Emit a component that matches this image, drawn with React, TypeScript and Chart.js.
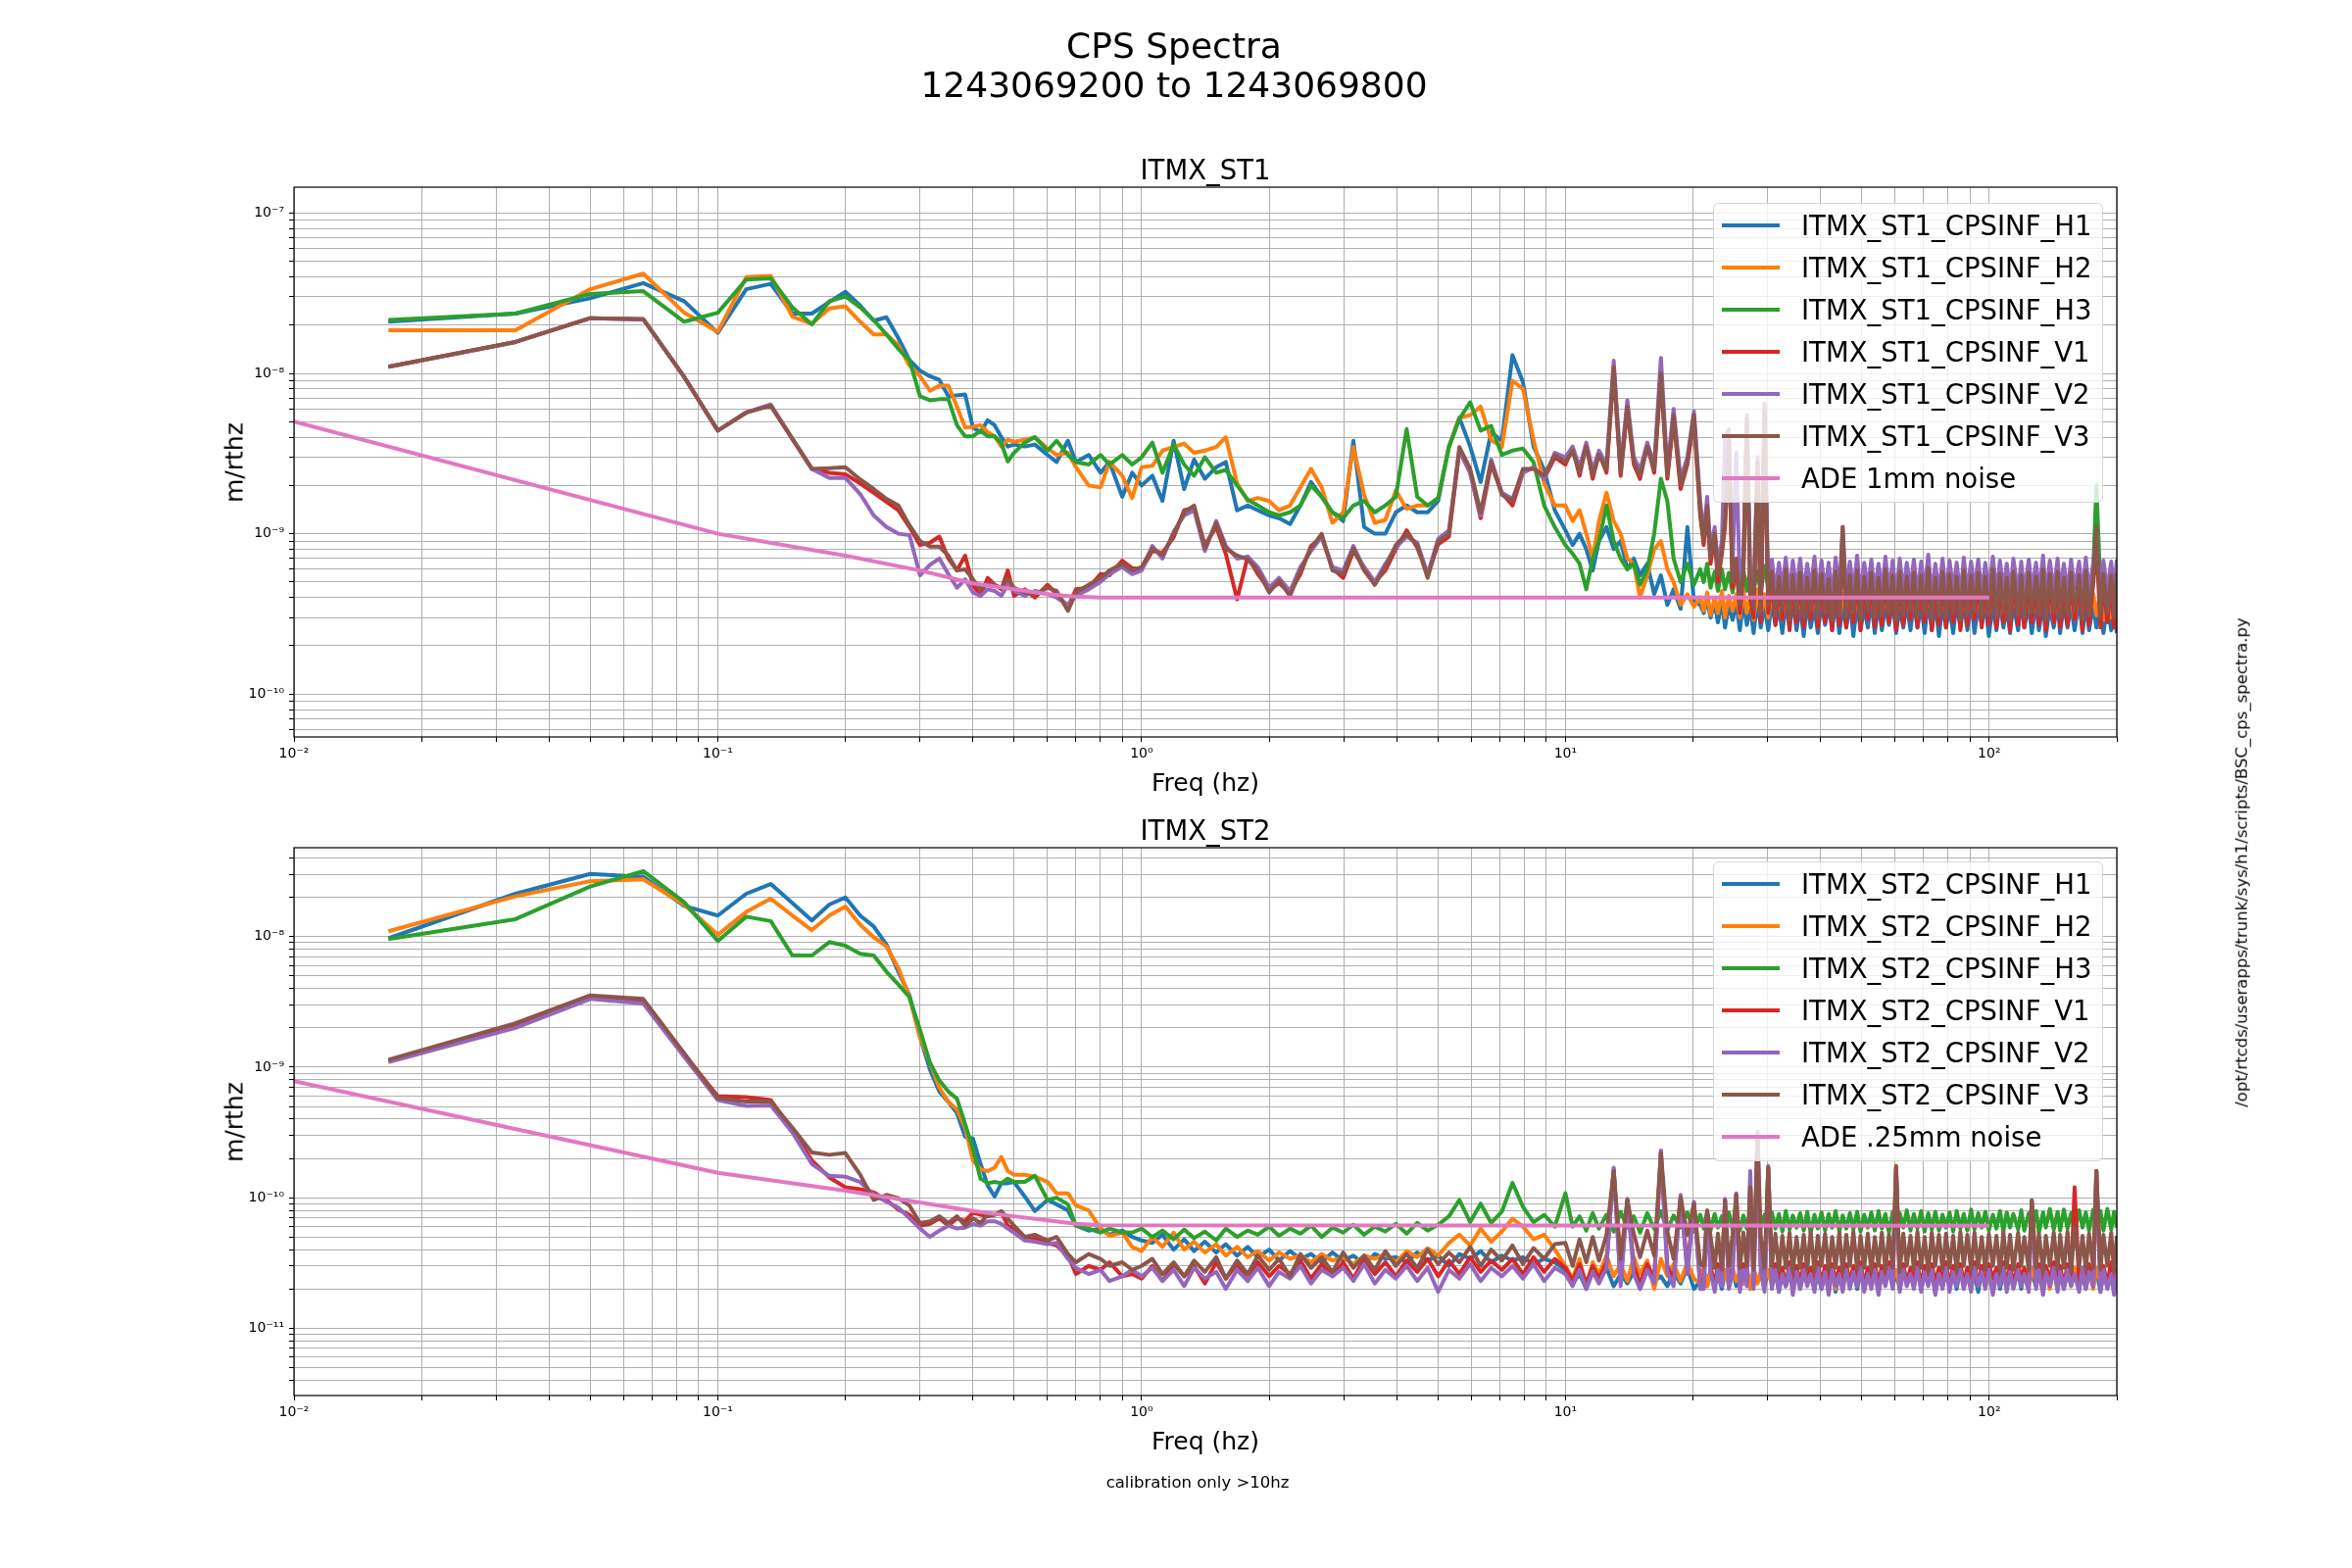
import React, { useEffect, useRef } from 'react';
import { Chart, registerables } from 'chart.js';

Chart.register(...registerables);

const FONT = '"DejaVu Sans", "Liberation Sans", sans-serif';
const GRID = '#b0b0b0';
const COLORS = ['#1f77b4', '#ff7f0e', '#2ca02c', '#d62728', '#9467bd', '#8c564b', '#e377c2'];
const LINE_W = 4;

// units used to store the values below
const TOP_UNIT = 1e-10;
const BOT_UNIT = 1e-11;

// frequency grids (Hz)
const F_LOW = [0.0167, 0.0333, 0.05, 0.0667, 0.0833, 0.1, 0.1167, 0.1333, 0.15, 0.1667,
  0.1833, 0.2, 0.2167, 0.2333, 0.25, 0.2667, 0.2833, 0.3, 0.3167, 0.3333,
  0.35, 0.3667, 0.3833, 0.4, 0.4167, 0.4333, 0.45, 0.4667, 0.4833, 0.5];
const F_MID = [0.53, 0.56, 0.6, 0.63, 0.67, 0.7, 0.75, 0.8, 0.84, 0.9,
  0.95, 1.0, 1.06, 1.12, 1.19, 1.26, 1.33, 1.41, 1.5, 1.58,
  1.68, 1.78, 1.88, 2.0, 2.11, 2.24, 2.37, 2.51, 2.66, 2.82,
  2.99, 3.16, 3.35, 3.55, 3.76, 3.98, 4.22, 4.47, 4.73, 5.01,
  5.31, 5.62, 5.96, 6.31, 6.68, 7.08, 7.5, 7.94, 8.41, 8.91,
  9.44];
const F_HIGH = [10, 10.4, 10.8, 11.2, 11.6, 12, 12.5, 13, 13.5, 14,
  14.5, 15, 15.6, 16.2, 16.8, 17.4, 18, 18.7, 19.4, 20.1];
const F_BAND = [20.8, 21.2, 21.6, 22.0, 22.5, 22.9, 23.4, 23.8, 24.3, 24.8,
  25.3, 25.8, 26.3, 26.8, 27.3, 27.8, 28.4, 28.9, 29.5, 30.1,
  30.7, 31.3, 31.9, 32.5, 33.1, 33.8, 34.4, 35.1, 35.8, 36.5,
  37.2, 37.9, 38.7, 39.4, 40.2, 41.0, 41.8, 42.6, 43.4, 44.3,
  45.1, 46.0, 46.9, 47.8, 48.8, 49.7, 50.7, 51.7, 52.7, 53.7,
  54.8, 55.8, 56.9, 58.0, 59.2, 60.3, 61.5, 62.7, 63.9, 65.2,
  66.4, 67.7, 69.1, 70.4, 71.8, 73.2, 74.6, 76.1, 77.6, 79.1,
  80.6, 82.2, 83.8, 85.5, 87.1, 88.8, 90.6, 92.3, 94.2, 96.0,
  97.9, 99.8, 102, 104, 106, 108, 110, 112, 114, 117,
  119, 121, 124, 126, 129, 131, 134, 136, 139, 142,
  145, 147, 150, 153, 156, 159, 163, 166, 169, 172,
  176, 179, 183, 186, 190, 194, 197, 200];
const F_ADE = [0.01, 0.1, 0.2, 0.3, 0.4, 0.5, 0.6, 0.7, 0.8, 100];

// ---------------- ITMX_ST1 (values in 1e-10 m/rthz) ----------------
const ST1_H1 = [
  [210, 236, 294, 366, 282, 179, 335, 362, 236, 236,
    279, 323, 265, 213, 224, 166, 121, 104, 96, 91,
    72, 73, 74, 46, 43, 51, 47.5, 40, 35, 36],
  [35, 36, 31, 28, 38, 28, 31, 24, 28, 17,
    24, 20, 23, 16, 38, 19, 29, 22, 26, 28,
    14, 15, 14, 13, 12.5, 11.5, 15, 21, 17, 13.6,
    12, 38, 11, 10, 10, 13.6, 15, 13.6, 13.6, 16,
    35, 53, 35, 21, 43, 38, 130, 88, 35, 25,
    14],
  [10.5, 8.5, 10, 8, 5.9, 9, 11, 8, 9, 6,
    7, 5.5, 6.5, 4.2, 5.5, 3.6, 4.5, 3.4, 11, 3.8],
  [3.6, 3.2, 3.9, 3.0, 3.7, 2.8, 3.8, 2.6, 3.6, 2.9,
    3.7, 2.5, 3.8, 2.7, 3.5, 2.4, 3.9, 2.6, 3.6, 2.5,
    3.8, 2.7, 3.5, 2.4, 3.7, 2.6, 3.9, 2.5, 3.6, 2.3,
    3.8, 2.6, 3.5, 2.4, 3.7, 2.7, 3.6, 2.5, 3.9, 2.4,
    3.6, 2.6, 3.8, 2.3, 3.7, 2.5, 3.5, 2.6, 3.8, 2.4,
    3.7, 2.5, 3.6, 2.7, 3.8, 2.4, 3.5, 2.6, 3.7, 2.5,
    3.8, 2.6, 3.6, 2.4, 3.9, 2.5, 3.7, 2.3, 3.6, 2.6,
    3.5, 2.4, 3.8, 2.6, 3.7, 2.5, 3.9, 2.4, 3.6, 2.7,
    3.7, 2.3, 3.6, 2.5, 3.8, 2.6, 3.5, 2.4, 3.7, 2.5,
    3.9, 2.6, 3.6, 2.4, 3.8, 2.5, 3.7, 2.3, 3.5, 2.6,
    3.8, 2.4, 3.7, 2.6, 3.6, 2.5, 3.9, 2.4, 3.7, 2.5,
    3.6, 2.6, 3.8, 2.4, 3.7, 2.5, 3.6, 2.4],
];
const ST1_H2 = [
  [186, 186, 335, 419, 239, 182, 398, 406, 226, 204,
    254, 262, 210, 175, 175, 150, 112, 96, 78, 84,
    84, 62, 46, 46.5, 47.5, 43, 40.5, 35, 38.5, 37.5],
  [38.5, 40, 34, 31, 32, 26, 20, 19.5, 28, 23,
    16.7, 26, 26.5, 33, 34.7, 36.5, 32, 33, 34.7, 40,
    20.6, 16, 16.7, 16, 14, 15, 19.5, 25.4, 19.5, 11.7,
    13.6, 34.7, 17.5, 11.7, 12.2, 18.6, 14.3, 15, 15, 16.7,
    34.7, 52.7, 55, 62, 38.5, 34.7, 90, 80, 38.5, 20.6,
    15],
  [15, 12, 14, 10, 7, 12, 18, 12, 10, 7,
    6.5, 4.0, 5.5, 8, 9, 6, 5, 3.6, 4.2, 3.5],
  [4.0, 3.3, 4.3, 3.1, 4.0, 3.2, 4.4, 3.0, 4.1, 3.3,
    4.2, 3.0, 4.4, 3.2, 4.1, 2.9, 4.5, 3.1, 4.2, 3.0,
    4.4, 3.2, 4.1, 2.9, 4.3, 3.1, 4.5, 3.0, 4.2, 2.9,
    4.4, 3.1, 4.2, 3.0, 4.3, 3.2, 4.1, 2.9, 4.5, 3.0,
    4.2, 3.1, 4.4, 2.9, 4.3, 3.0, 4.1, 3.2, 4.4, 2.9,
    4.3, 3.0, 4.2, 3.2, 4.4, 2.9, 4.1, 3.1, 4.3, 3.0,
    4.4, 3.1, 4.2, 3.0, 4.5, 2.9, 4.3, 3.1, 4.1, 3.0,
    4.3, 3.2, 4.4, 2.9, 4.2, 3.1, 4.5, 3.0, 4.3, 2.9,
    4.1, 3.0, 4.4, 3.2, 4.3, 2.9, 4.2, 3.1, 4.4, 3.0,
    4.5, 3.1, 4.2, 2.9, 4.3, 3.0, 4.4, 3.2, 4.1, 2.9,
    4.3, 3.1, 4.4, 3.0, 4.2, 2.9, 4.5, 3.1, 4.3, 3.0,
    4.2, 3.1, 4.4, 2.9, 4.3, 3.0, 4.2, 3.1],
];
const ST1_H3 = [
  [215, 236, 313, 326, 210, 239, 385, 392, 258, 202,
    282, 302, 258, 215, 175, 142, 121, 72, 68, 69,
    69, 47.5, 40.5, 40.5, 44, 40.5, 40.5, 36.7, 28.2, 32],
  [37, 40, 33, 38, 31, 28, 27, 31, 27, 31,
    27, 30, 37, 24, 36, 27, 23, 30, 24, 25,
    20, 16.3, 15, 13.6, 13, 13.6, 15, 20, 17, 13.6,
    12.5, 15, 16, 13.6, 15, 17, 45, 17, 15, 16.7,
    34.7, 52, 66, 44, 47, 31, 33, 34, 28, 15,
    11],
  [8.5, 7.5, 6.5, 4.5, 7, 9, 15, 9, 7, 6,
    6.5, 4.8, 6, 10, 22, 16, 7, 5, 6.5, 4.8],
  [6.0, 5.0, 6.5, 4.6, 5.8, 4.4, 6.0, 4.5, 5.7, 4.3,
    6.2, 4.6, 5.9, 4.4, 6.1, 4.5, 5.8, 4.3, 6.3, 4.6,
    6.0, 4.4, 6.2, 4.5, 5.9, 4.6, 6.1, 4.3, 6.4, 4.5,
    5.9, 4.6, 6.2, 4.4, 6.0, 4.5, 6.3, 4.4, 5.8, 4.6,
    6.1, 4.5, 6.4, 4.3, 5.9, 4.6, 6.2, 4.4, 6.0, 4.5,
    6.3, 4.4, 5.9, 4.6, 6.1, 4.5, 6.2, 4.3, 6.0, 4.6,
    6.2, 4.5, 6.0, 4.4, 6.3, 4.6, 5.9, 4.5, 6.1, 4.3,
    6.4, 4.6, 6.0, 4.4, 6.2, 4.5, 5.8, 4.3, 6.1, 4.6,
    6.0, 4.4, 6.3, 4.5, 5.9, 4.6, 6.2, 4.3, 6.0, 4.5,
    6.1, 4.6, 6.4, 4.4, 5.9, 4.5, 6.2, 4.3, 6.0, 4.6,
    6.3, 4.4, 6.0, 4.5, 6.1, 4.6, 5.9, 4.4, 6.2, 4.5,
    6.0, 20, 4.6, 6.1, 4.4, 6.2, 4.5, 6.0],
];
const ST1_V1 = [
  [110, 157, 221, 218, 95, 44, 57, 63, 39, 25.4,
    24, 23.5, 20.6, 18, 15.8, 14, 11, 8.5, 8.8, 9.6,
    7, 5.9, 7.3, 4.8, 4.1, 5.3, 4.8, 4.5, 5.9, 4.1],
  [4.5, 4.0, 4.8, 4.2, 3.5, 4.5, 4.6, 5.6, 5.5, 6.8,
    6.1, 6.0, 7.8, 7.6, 9.5, 14, 14.5, 8.5, 11, 7.5,
    3.9, 7.2, 5.6, 4.5, 4.9, 4.3, 5.6, 8.4, 9.5, 6.1,
    5.3, 7.8, 6.2, 5.0, 5.9, 8.0, 10.5, 8.2, 5.6, 8.6,
    9.6, 33, 24, 12.5, 27, 18, 15, 24, 26, 22,
    30],
  [27, 34, 23, 36, 22, 32, 24, 105, 23, 60,
    27, 22, 36, 24, 95, 22, 52, 19, 27, 52],
  [13, 8.5, 14, 6.5, 9.5, 5.0, 7.5, 11, 36, 4.6,
    6.5, 3.2, 5.5, 48, 4.0, 3.0, 26, 2.8, 55, 3.2,
    5.3, 2.7, 5.0, 2.9, 5.5, 2.5, 5.1, 2.8, 5.2, 2.6,
    4.9, 2.9, 5.4, 2.6, 5.1, 2.8, 4.8, 2.5, 5.3, 2.7,
    10, 2.6, 5.0, 2.8, 5.4, 2.5, 4.9, 2.9, 5.2, 2.6,
    4.8, 2.7, 5.5, 2.8, 5.0, 2.5, 5.3, 2.7, 4.9, 2.9,
    5.2, 2.6, 5.0, 2.8, 5.6, 2.5, 4.8, 2.7, 5.3, 2.6,
    5.1, 2.8, 4.9, 2.5, 5.4, 2.7, 5.0, 2.9, 5.2, 2.6,
    4.9, 2.7, 5.5, 2.6, 5.1, 2.8, 4.8, 2.5, 5.3, 2.7,
    5.0, 2.6, 5.2, 2.8, 4.9, 2.7, 5.5, 2.5, 5.1, 2.8,
    5.3, 2.6, 4.8, 2.7, 5.2, 2.9, 5.0, 2.5, 5.4, 2.7,
    4.9, 9, 2.6, 5.1, 2.8, 5.0, 2.6, 5.2],
];
const ST1_V2 = [
  [110, 157, 221, 218, 95, 44, 57, 64, 39, 25.4,
    22.3, 22.3, 17.7, 13, 11, 10, 9.8, 5.5, 6.4, 7,
    5.6, 4.6, 5.2, 4.3, 4.1, 4.5, 4.4, 4.1, 4.8, 4.4],
  [4.1, 4.4, 4.2, 4.0, 3.6, 4.1, 4.5, 5.0, 5.6, 6.2,
    5.6, 5.9, 8.4, 7.0, 10.3, 13, 14, 7.8, 12, 8.4,
    7.0, 7.2, 6.2, 4.6, 5.3, 4.4, 6.2, 7.8, 9.6, 6.2,
    5.9, 8.4, 6.1, 5.0, 6.5, 8.2, 9.6, 8.8, 5.6, 9.3,
    10.5, 33, 24, 13, 29, 18, 16.5, 24, 26, 22,
    32],
  [30, 35, 26, 37, 25, 33, 27, 120, 26, 68,
    30, 25, 37, 27, 125, 25, 60, 22, 30, 58],
  [16, 10, 17, 8, 11, 6.5, 9, 40, 45, 6.2,
    32, 4.6, 7.2, 55, 5.5, 4.4, 30, 4.3, 65, 4.6,
    6.9, 4.3, 6.6, 4.5, 7.1, 4.1, 6.8, 4.4, 7.0, 4.2,
    6.5, 4.5, 7.2, 4.1, 6.8, 4.4, 6.6, 4.0, 7.1, 4.3,
    11, 4.2, 6.7, 4.4, 7.3, 4.1, 6.6, 4.5, 6.9, 4.2,
    6.5, 4.3, 7.2, 4.4, 6.8, 4.0, 7.0, 4.3, 6.6, 4.5,
    6.9, 4.2, 6.7, 4.4, 7.4, 4.1, 6.5, 4.3, 7.0, 4.2,
    6.8, 4.4, 6.6, 4.0, 7.1, 4.3, 6.7, 4.5, 6.9, 4.2,
    6.6, 4.3, 7.2, 4.2, 6.8, 4.4, 6.5, 4.1, 7.0, 4.3,
    6.7, 4.2, 6.9, 4.4, 6.6, 4.3, 7.3, 4.1, 6.8, 4.4,
    7.0, 4.2, 6.5, 4.3, 6.9, 4.5, 6.7, 4.1, 7.1, 4.3,
    6.6, 10, 4.2, 6.8, 4.4, 6.7, 4.2, 6.9],
];
const ST1_V3 = [
  [110, 157, 221, 218, 95, 44, 57, 63, 39, 25.4,
    25.6, 26, 21.8, 19, 16.5, 15, 11.3, 9, 8.3, 8.3,
    7.3, 5.9, 6, 5.2, 4.5, 4.9, 4.8, 4.6, 5.2, 4.6],
  [4.3, 4.2, 4.6, 4.4, 3.3, 4.3, 4.8, 5.3, 5.9, 6.5,
    5.9, 6.2, 8.1, 7.3, 10, 13.6, 15, 8.1, 11.7, 8.1,
    7.3, 6.9, 5.9, 4.3, 5.1, 4.1, 5.9, 8.1, 10, 5.9,
    5.6, 8.1, 5.9, 4.8, 6.2, 8.5, 10, 8.5, 5.3, 9,
    10, 34.7, 25.4, 13.6, 28, 17.5, 16, 25.4, 25.4, 23,
    31],
  [28, 33, 24, 35, 23, 31, 25, 110, 24, 62,
    28, 23, 35, 25, 100, 23, 55, 20, 28, 55],
  [14, 9, 15, 7, 10, 5.5, 8, 12, 38, 5.0,
    7, 3.6, 6, 52, 4.5, 3.4, 28, 3.2, 60, 3.6,
    5.8, 3.1, 5.4, 3.3, 6.0, 2.9, 5.5, 3.2, 5.7, 3.0,
    5.3, 3.3, 5.9, 3.0, 5.6, 3.2, 5.2, 2.9, 5.8, 3.1,
    11, 3.0, 5.5, 3.2, 5.9, 2.9, 5.4, 3.3, 5.7, 3.0,
    5.3, 3.1, 6.0, 3.2, 5.5, 2.9, 5.8, 3.1, 5.4, 3.3,
    5.7, 3.0, 5.5, 3.2, 6.1, 2.9, 5.3, 3.1, 5.8, 3.0,
    5.6, 3.2, 5.4, 2.9, 5.9, 3.1, 5.5, 3.3, 5.7, 3.0,
    5.4, 3.1, 6.0, 3.0, 5.6, 3.2, 5.3, 2.9, 5.8, 3.1,
    5.5, 3.0, 5.7, 3.2, 5.4, 3.1, 6.0, 2.9, 5.6, 3.2,
    5.8, 3.0, 5.3, 3.1, 5.7, 3.3, 5.5, 2.9, 5.9, 3.1,
    5.4, 11, 3.0, 5.6, 3.2, 5.5, 3.0, 5.7],
];
const ST1_ADE = [50, 10, 7.3, 5.9, 4.9, 4.5, 4.2, 4.05, 4.0, 4.0];

// ---------------- ITMX_ST2 (values in 1e-11 m/rthz) ----------------
const ST2_H1 = [
  [970, 2130, 3025, 2870, 1720, 1449, 2130, 2530, 1810, 1330,
    1760, 1995, 1449, 1196, 869, 538, 355, 170, 95.6, 65,
    54, 44.5, 29.3, 28.4, 18.2, 12.4, 10.2, 12.9, 12.9, 13.2],
  [10.2, 7.9, 9.6, 8.9, 8.0, 6.1, 5.6, 5.8, 5.2, 5.6,
    5.0, 4.7, 4.5, 5.2, 4.0, 4.8, 3.9, 4.6, 3.8, 4.4,
    3.6, 4.2, 3.5, 4.0, 3.3, 3.9, 3.4, 3.7, 3.2, 3.8,
    3.3, 3.6, 3.1, 3.7, 3.4, 3.5, 3.2, 3.8, 3.3, 3.6,
    3.0, 3.7, 3.4, 3.9, 3.2, 3.6, 3.3, 3.5, 3.1, 3.4,
    3.2],
  [2.8, 2.2, 2.6, 2.0, 2.7, 2.3, 2.9, 2.1, 2.6, 2.2,
    2.7, 2.0, 2.8, 2.3, 2.5, 2.1, 2.7, 2.2, 2.9, 2.0],
  [2.3, 2.7, 2.1, 2.8, 2.2, 2.6, 2.0, 2.7, 2.3, 2.8,
    2.1, 2.6, 2.2, 2.9, 2.0, 2.7, 2.3, 2.6, 2.1, 2.8,
    2.2, 2.7, 1.9, 2.8, 2.1, 2.6, 2.3, 2.9, 2.0, 2.7,
    2.2, 2.8, 2.1, 2.6, 2.0, 2.7, 2.3, 2.8, 1.9, 2.6,
    2.1, 2.9, 2.2, 2.7, 2.0, 2.6, 2.3, 2.8, 2.1, 2.7,
    1.9, 2.6, 2.2, 2.8, 2.1, 2.7, 2.0, 2.9, 2.3, 2.6,
    2.1, 2.8, 2.0, 2.7, 2.2, 2.6, 1.9, 2.8, 2.1, 2.7,
    2.3, 2.6, 2.0, 2.9, 2.2, 2.7, 2.1, 2.6, 1.9, 2.8,
    2.2, 2.7, 2.1, 2.8, 2.0, 2.6, 2.3, 2.9, 2.1, 2.7,
    2.0, 2.8, 2.2, 2.6, 2.1, 2.7, 1.9, 2.8, 2.3, 2.6,
    2.1, 2.9, 2.0, 2.7, 2.2, 2.8, 2.1, 2.6, 2.0, 2.7,
    2.2, 2.8, 1.9, 2.6, 2.1, 2.7, 2.0, 2.8],
];
const ST2_H2 = [
  [1100, 2035, 2660, 2750, 1760, 1033, 1545, 1955, 1449, 1122,
    1449, 1701, 1235, 987, 841, 573, 344, 170, 108, 69.5,
    54, 47.5, 34.4, 19.3, 16.5, 16, 17, 20.5, 16, 15],
  [15, 14.5, 13.2, 10.8, 10.8, 8.7, 8.0, 5.8, 5.1, 5.4,
    4.2, 3.9, 5.0, 4.2, 5.4, 4.0, 4.6, 3.8, 4.4, 3.6,
    4.2, 3.5, 3.9, 3.3, 3.8, 3.4, 3.6, 3.2, 3.7, 3.3,
    3.5, 3.1, 3.6, 3.4, 3.7, 3.2, 3.9, 3.5, 4.1, 3.6,
    4.5, 5.2, 4.3, 5.8, 4.6, 5.5, 6.9, 6.0, 4.8, 5.2,
    4.0],
  [3.0, 2.4, 3.4, 2.0, 3.2, 2.6, 3.6, 2.5, 3.1, 2.3,
    3.5, 2.6, 3.3, 2.0, 3.4, 2.5, 3.1, 2.3, 3.2, 2.4],
  [2.2, 2.9, 2.1, 2.7, 2.3, 2.9, 2.2, 2.8, 2.1, 2.9,
    2.3, 2.7, 2.2, 2.8, 2.0, 2.9, 2.2, 2.7, 2.3, 2.8,
    2.1, 2.9, 2.2, 2.7, 2.3, 2.8, 2.0, 2.9, 2.2, 2.7,
    2.3, 2.8, 2.1, 2.9, 2.2, 2.7, 2.3, 2.8, 2.0, 2.9,
    2.2, 2.7, 2.3, 2.8, 2.1, 2.9, 2.2, 2.7, 2.3, 2.8,
    2.0, 2.9, 2.2, 2.7, 2.3, 2.8, 2.1, 2.9, 2.2, 2.7,
    2.3, 2.8, 2.0, 2.9, 2.2, 2.7, 2.3, 2.8, 2.1, 2.9,
    2.2, 2.7, 2.3, 2.8, 2.0, 2.9, 2.2, 2.7, 2.3, 2.8,
    2.1, 2.9, 2.2, 2.7, 2.3, 2.8, 2.0, 2.9, 2.2, 2.7,
    2.3, 2.8, 2.1, 2.9, 2.2, 2.7, 2.3, 2.8, 2.0, 2.9,
    2.2, 2.7, 2.3, 2.8, 2.1, 2.9, 2.2, 2.7, 2.3, 2.8,
    2.0, 2.9, 2.2, 2.7, 2.3, 2.8, 2.1, 2.6],
];
const ST2_H3 = [
  [956, 1360, 2420, 3180, 1836, 926, 1422, 1316, 717, 717,
    908, 852, 740, 717, 538, 430, 344, 193, 108, 79,
    65, 57.3, 36.7, 23.6, 14, 12.9, 13.2, 12.9, 14, 13.2],
  [13.2, 14.7, 9.6, 10, 8.9, 6.1, 5.8, 5.4, 5.8, 5.4,
    5.4, 5.8, 5.0, 5.6, 4.8, 5.7, 4.9, 5.5, 4.7, 5.8,
    5.0, 5.6, 5.2, 6.0, 5.1, 5.8, 5.3, 6.1, 5.0, 5.9,
    5.4, 6.2, 5.2, 6.0, 5.5, 6.3, 5.3, 6.4, 5.6, 6.2,
    7.2, 9.6, 6.5, 9.0, 6.4, 7.8, 13, 8.5, 6.5, 7.4,
    6.0],
  [10.8, 6.0, 7.2, 5.6, 7.6, 5.8, 7.4, 5.5, 7.8, 5.9,
    7.2, 5.4, 7.6, 5.8, 7.9, 5.6, 7.3, 5.9, 7.7, 5.5],
  [7.4, 5.8, 7.8, 5.6, 7.5, 5.9, 7.2, 5.5, 7.7, 5.7,
    7.9, 5.6, 7.3, 5.8, 7.6, 5.4, 7.8, 5.9, 7.4, 5.6,
    7.7, 5.8, 7.5, 5.5, 7.9, 5.7, 7.3, 5.9, 7.6, 5.6,
    7.8, 5.4, 7.4, 5.8, 7.7, 5.6, 7.5, 5.9, 7.9, 5.5,
    7.3, 5.8, 7.6, 5.7, 7.8, 5.5, 7.4, 5.9, 7.7, 5.6,
    7.9, 5.8, 7.5, 5.4, 7.8, 5.7, 7.6, 5.9, 8.0, 5.6,
    7.5, 5.8, 7.9, 5.5, 7.6, 5.7, 7.8, 5.6, 7.4, 5.9,
    7.7, 5.5, 7.9, 5.8, 7.5, 5.6, 8.1, 5.7, 7.6, 5.9,
    7.8, 5.6, 7.4, 5.8, 7.9, 5.5, 7.7, 5.9, 7.5, 5.7,
    8.0, 5.6, 7.6, 5.8, 7.9, 5.4, 7.7, 5.9, 8.2, 5.7,
    7.8, 5.6, 8.1, 5.8, 7.6, 5.5, 8.0, 5.9, 7.7, 5.6,
    8.1, 5.8, 7.9, 5.6, 8.2, 5.7, 7.8, 5.9],
];
const ST2_V1 = [
  [112, 210, 345, 322, 125, 60, 59, 56, 33, 19.3,
    14.3, 12, 11.6, 11, 9.6, 8.1, 7.4, 6.1, 6.3, 6.95,
    6.1, 6.95, 6.6, 7.7, 7.4, 7.2, 7.4, 7.7, 6.1, 5.8],
  [5.0, 4.9, 4.5, 4.3, 3.6, 2.6, 3.0, 2.8, 3.2, 2.5,
    2.6, 2.4, 3.0, 2.3, 3.1, 2.5, 3.0, 2.2, 3.2, 2.4,
    3.1, 2.3, 3.2, 2.5, 3.0, 2.6, 3.3, 2.4, 3.1, 2.5,
    3.2, 2.4, 3.4, 2.6, 3.2, 2.5, 3.3, 2.7, 3.4, 2.5,
    3.3, 2.6, 3.5, 2.7, 3.3, 2.8, 3.4, 2.6, 3.5, 2.7,
    3.4],
  [2.9, 2.3, 3.1, 2.2, 3.0, 2.4, 3.2, 16.5, 2.3, 9.7,
    3.0, 2.2, 3.1, 2.4, 22.5, 3.0, 2.3, 10.2, 2.9, 9.1],
  [2.2, 2.2, 7.8, 3.0, 2.1, 3.1, 2.3, 9.6, 2.2, 2.9,
    10.6, 2.3, 3.1, 2.2, 12.5, 2.1, 30, 3.0, 2.2, 17,
    2.2, 3.1, 2.3, 2.9, 2.1, 3.2, 2.4, 3.0, 2.2, 3.1,
    2.3, 2.9, 2.1, 3.2, 2.2, 3.0, 2.4, 3.1, 2.3, 2.9,
    2.1, 3.1, 2.2, 3.0, 2.4, 3.2, 2.1, 2.9, 2.3, 3.1,
    2.2, 3.0, 2.3, 3.2, 2.1, 17.5, 2.4, 3.1, 2.2, 2.9,
    2.3, 3.2, 2.1, 3.0, 2.4, 3.1, 2.2, 2.9, 2.3, 3.2,
    2.1, 3.0, 2.3, 3.1, 2.2, 2.9, 2.4, 3.2, 2.1, 3.0,
    2.2, 3.1, 2.4, 2.9, 2.3, 3.2, 2.1, 3.0, 2.2, 3.1,
    2.4, 2.9, 2.2, 9.5, 2.1, 3.1, 2.3, 3.0, 2.4, 3.2,
    2.2, 3.0, 2.1, 3.1, 2.3, 12, 2.2, 2.9, 2.4, 3.1,
    2.1, 16, 2.3, 3.0, 2.2, 3.2, 2.1, 2.9],
];
const ST2_V2 = [
  [109, 200, 333, 307, 120, 56, 50.4, 51, 31.5, 18.1,
    14.7, 14.5, 13.2, 10.5, 9.3, 8.4, 6.95, 5.8, 5.0, 5.6,
    6.1, 5.8, 5.9, 6.3, 6.1, 6.6, 6.6, 6.3, 5.8, 5.4],
  [4.7, 4.6, 4.4, 4.5, 3.4, 2.9, 2.6, 2.8, 2.3, 2.5,
    2.8, 2.5, 2.9, 2.3, 2.8, 2.1, 2.9, 2.4, 2.7, 2.0,
    2.8, 2.3, 2.9, 2.1, 2.7, 2.4, 3.0, 2.2, 2.8, 2.5,
    2.9, 2.3, 3.1, 2.2, 2.8, 2.4, 3.0, 2.3, 2.9, 1.9,
    2.8, 2.4, 3.1, 2.3, 2.9, 2.5, 3.0, 2.4, 3.1, 2.3,
    2.9],
  [2.6, 2.1, 2.8, 2.0, 2.7, 2.2, 2.9, 17, 2.1, 9.8,
    2.6, 2.0, 2.8, 2.2, 23, 2.7, 2.1, 10.5, 2.6, 9.3],
  [2.0, 2.0, 7.5, 2.7, 1.9, 2.8, 2.1, 9.8, 2.0, 2.6,
    10.8, 1.9, 2.8, 2.1, 16, 2.0, 32, 2.7, 1.9, 17.5,
    2.0, 2.8, 1.9, 2.6, 2.1, 2.9, 1.8, 2.7, 2.0, 2.8,
    2.1, 2.6, 1.9, 2.9, 2.0, 2.7, 1.8, 2.8, 2.1, 2.6,
    1.9, 2.8, 2.0, 2.7, 2.1, 2.9, 1.9, 2.6, 2.0, 2.8,
    1.8, 2.7, 2.1, 2.9, 2.0, 17, 1.9, 2.8, 2.1, 2.6,
    2.0, 2.9, 1.9, 2.7, 2.1, 2.8, 1.8, 2.6, 2.0, 2.9,
    1.9, 2.7, 2.1, 2.8, 2.0, 2.6, 1.9, 2.9, 2.1, 2.7,
    2.0, 2.8, 1.8, 2.6, 2.1, 2.9, 1.9, 2.7, 2.0, 2.8,
    2.1, 2.6, 1.9, 9.5, 2.0, 2.8, 1.8, 2.7, 2.1, 2.9,
    1.9, 2.7, 2.0, 2.8, 2.1, 2.6, 1.9, 2.9, 2.0, 2.7,
    2.1, 16, 1.9, 2.8, 2.0, 2.6, 1.8, 2.7],
];
const ST2_V3 = [
  [114, 217, 355, 333, 128, 58, 54.5, 54.5, 34.4, 22.2,
    21.3, 22, 15, 9.6, 10.5, 9.9, 8.7, 6.4, 6.6, 7.2,
    6.4, 7.2, 6.1, 6.95, 6.4, 7.4, 7.4, 7.9, 6.95, 6.1],
  [5.0, 5.2, 4.7, 5.0, 3.7, 3.2, 3.7, 3.4, 3.0, 3.2,
    2.8, 3.0, 3.4, 2.6, 3.2, 2.5, 3.3, 2.7, 3.5, 2.4,
    3.3, 2.6, 3.6, 2.8, 3.4, 2.5, 3.7, 2.9, 3.5, 2.7,
    3.8, 2.9, 3.6, 2.8, 3.9, 3.0, 3.7, 2.9, 4.0, 3.1,
    3.8, 3.2, 4.2, 3.0, 4.0, 3.3, 4.3, 3.1, 4.1, 3.4,
    4.4],
  [4.5, 3.0, 4.8, 3.2, 5.0, 3.3, 5.2, 16, 3.4, 9.6,
    5.3, 3.5, 5.6, 3.6, 22, 5.5, 3.4, 10, 5.2, 9],
  [3.1, 3.0, 8, 5.1, 2.9, 5.3, 2.8, 9.5, 3.0, 5.2,
    10.5, 2.9, 5.4, 3.0, 12, 2.8, 30, 5.1, 2.9, 17,
    3.0, 5.3, 2.8, 5.1, 2.9, 5.4, 2.7, 5.0, 2.9, 5.2,
    2.8, 5.5, 2.7, 5.1, 3.0, 5.3, 2.8, 5.0, 2.9, 5.4,
    2.7, 5.2, 3.0, 5.5, 2.8, 5.1, 2.9, 5.3, 2.7, 5.0,
    3.0, 5.4, 2.8, 5.2, 2.9, 17, 2.7, 5.3, 3.0, 5.1,
    2.8, 5.5, 2.9, 5.0, 2.7, 5.4, 3.0, 5.2, 2.8, 5.3,
    2.9, 5.1, 2.7, 5.5, 3.0, 5.2, 2.8, 5.4, 2.9, 5.0,
    2.8, 5.3, 3.0, 5.1, 2.7, 5.5, 2.9, 5.2, 2.8, 5.4,
    3.0, 5.0, 2.8, 9.5, 2.9, 5.3, 2.7, 5.1, 3.0, 5.4,
    2.8, 5.2, 2.9, 5.5, 2.7, 6.0, 3.0, 5.1, 2.8, 5.3,
    2.9, 16, 2.8, 5.2, 3.0, 5.4, 2.7, 5.1],
];
const ST2_ADE = [78, 15.5, 11.3, 9.2, 7.9, 7.2, 6.7, 6.3, 6.15, 6.1];

const ST1_LABELS = ['ITMX_ST1_CPSINF_H1', 'ITMX_ST1_CPSINF_H2', 'ITMX_ST1_CPSINF_H3',
  'ITMX_ST1_CPSINF_V1', 'ITMX_ST1_CPSINF_V2', 'ITMX_ST1_CPSINF_V3', 'ADE 1mm noise'];
const ST2_LABELS = ['ITMX_ST2_CPSINF_H1', 'ITMX_ST2_CPSINF_H2', 'ITMX_ST2_CPSINF_H3',
  'ITMX_ST2_CPSINF_V1', 'ITMX_ST2_CPSINF_V2', 'ITMX_ST2_CPSINF_V3', 'ADE .25mm noise'];

// axes
const X_MIN = 0.01;
const X_MAX = 200;
const X_MAJOR = [0.01, 0.1, 1, 10, 100];
const X_LABELS = ['10⁻²', '10⁻¹', '10⁰', '10¹', '10²'];
const Y1_RANGE = [5.4e-11, 1.45e-7];
const Y1_MAJOR = [1e-10, 1e-9, 1e-8, 1e-7];
const Y1_LABELS = ['10⁻¹⁰', '10⁻⁹', '10⁻⁸', '10⁻⁷'];
const Y2_RANGE = [3.05e-12, 4.8e-8];
const Y2_MAJOR = [1e-11, 1e-10, 1e-9, 1e-8];
const Y2_LABELS = ['10⁻¹¹', '10⁻¹⁰', '10⁻⁹', '10⁻⁸'];

function logTicks(min: number, max: number) {
  const out: number[] = [];
  for (let e = Math.floor(Math.log10(min)); e <= Math.floor(Math.log10(max)); e++) {
    for (let m = 1; m <= 9; m++) {
      const v = parseFloat((m * Math.pow(10, e)).toPrecision(6));
      if (v >= min * (1 - 1e-9) && v <= max * (1 + 1e-9)) out.push(v);
    }
  }
  return out;
}

function majorLabel(v: number, majors: number[], labels: string[]) {
  const i = majors.findIndex((m) => Math.abs(v / m - 1) < 1e-6);
  return i >= 0 ? labels[i] : '';
}

function toPoints(series: number[][], unit: number) {
  const grids = [F_LOW, F_MID, F_HIGH, F_BAND];
  const pts: { x: number; y: number }[] = [];
  series.forEach((vals, s) => {
    vals.forEach((v, i) => {
      const x = grids[s][i];
      if (x !== undefined) pts.push({ x, y: v * unit });
    });
  });
  return pts;
}

const framePlugin = {
  id: 'frame',
  afterDraw(chart: any) {
    const { ctx, chartArea: a } = chart;
    ctx.save();
    ctx.strokeStyle = '#000';
    ctx.lineWidth = 1.2;
    ctx.strokeRect(a.left, a.top, a.right - a.left, a.bottom - a.top);
    ctx.restore();
  },
};

function buildDatasets(series: number[][][], ade: number[], unit: number, labels: string[]) {
  const ds: any[] = series.map((s, i) => ({
    label: labels[i],
    data: toPoints(s, unit),
    borderColor: COLORS[i],
    backgroundColor: COLORS[i],
    borderWidth: LINE_W,
    pointRadius: 0,
    tension: 0,
    fill: false,
    clip: 0,
    order: 10 - i,
  }));
  ds.push({
    label: labels[6],
    data: F_ADE.map((f, i) => ({ x: f, y: ade[i] * unit })),
    borderColor: COLORS[6],
    backgroundColor: COLORS[6],
    borderWidth: LINE_W,
    pointRadius: 0,
    tension: 0,
    fill: false,
    clip: 0,
    order: 1,
  });
  return ds;
}

function makeChart(canvas: HTMLCanvasElement, datasets: any[], yRange: number[], yMajor: number[],
  yLabels: string[], padTop: number, padBottom: number) {
  const xTicks = logTicks(X_MIN, X_MAX);
  const yTicks = logTicks(yRange[0], yRange[1]);
  return new Chart(canvas, {
    type: 'line',
    data: { datasets },
    plugins: [framePlugin],
    options: {
      animation: false,
      responsive: false,
      devicePixelRatio: 1,
      events: [],
      layout: { padding: { top: padTop, right: 240, bottom: padBottom, left: 0 } },
      plugins: { legend: { display: false }, tooltip: { enabled: false }, title: { display: false } },
      elements: { point: { radius: 0 }, line: { borderJoinStyle: 'round' } },
      scales: {
        x: {
          type: 'logarithmic',
          position: 'bottom',
          min: X_MIN,
          max: X_MAX,
          afterBuildTicks: (s: any) => { s.ticks = xTicks.map((v) => ({ value: v })); },
          afterFit: (s: any) => { s.height = 48; },
          grid: { color: GRID, lineWidth: 1, drawTicks: true, tickLength: 5, tickColor: '#000', tickWidth: 1 },
          border: { display: false },
          ticks: {
            autoSkip: false, maxRotation: 0, minRotation: 0, padding: 4, color: '#000',
            font: { family: FONT, size: 14 },
            callback: (v: any) => majorLabel(Number(v), X_MAJOR, X_LABELS),
          },
        },
        y: {
          type: 'logarithmic',
          position: 'left',
          min: yRange[0],
          max: yRange[1],
          afterBuildTicks: (s: any) => { s.ticks = yTicks.map((v) => ({ value: v })); },
          afterFit: (s: any) => { s.width = 300; },
          grid: { color: GRID, lineWidth: 1, drawTicks: true, tickLength: 5, tickColor: '#000', tickWidth: 1 },
          border: { display: false },
          ticks: {
            autoSkip: false, padding: 5, color: '#000',
            font: { family: FONT, size: 14 },
            callback: (v: any) => majorLabel(Number(v), yMajor, yLabels),
          },
        },
      },
    } as any,
  });
}

function Txt({ x, y, size, children, rotate }: { x: number; y: number; size: number; children: any; rotate?: boolean }) {
  return (
    <div style={{
      position: 'absolute', left: x, top: y, fontSize: size, lineHeight: 1, whiteSpace: 'nowrap',
      color: '#000', fontFamily: FONT, zIndex: 2,
      transform: `translate(-50%, -50%)${rotate ? ' rotate(-90deg)' : ''}`,
    }}>{children}</div>
  );
}

function Legend({ left, top, labels }: { left: number; top: number; labels: string[] }) {
  return (
    <div style={{
      position: 'absolute', left, top, width: 398, height: 306, boxSizing: 'border-box',
      background: 'rgba(255,255,255,0.8)', border: '1px solid rgba(204,204,204,0.8)', borderRadius: 6, zIndex: 3,
    }}>
      {labels.map((lab, i) => {
        const cy = 22 + 43 * i;
        return (
          <React.Fragment key={lab}>
            <div style={{ position: 'absolute', left: 8, top: cy - 2, width: 59, height: LINE_W, background: COLORS[i] }} />
            <div style={{
              position: 'absolute', left: 89, top: cy - 13.2, fontSize: 27.5, lineHeight: 1,
              fontFamily: FONT, whiteSpace: 'nowrap', color: '#000',
            }}>{lab}</div>
          </React.Fragment>
        );
      })}
    </div>
  );
}

export default function App() {
  const topRef = useRef<HTMLCanvasElement>(null);
  const botRef = useRef<HTMLCanvasElement>(null);

  useEffect(() => {
    const c1 = makeChart(topRef.current!, buildDatasets([ST1_H1, ST1_H2, ST1_H3, ST1_V1, ST1_V2, ST1_V3], ST1_ADE, TOP_UNIT, ST1_LABELS),
      Y1_RANGE, Y1_MAJOR, Y1_LABELS, 191, 0);
    const c2 = makeChart(botRef.current!, buildDatasets([ST2_H1, ST2_H2, ST2_H3, ST2_V1, ST2_V2, ST2_V3], ST2_ADE, BOT_UNIT, ST2_LABELS),
      Y2_RANGE, Y2_MAJOR, Y2_LABELS, 65, 128);
    return () => { c1.destroy(); c2.destroy(); };
  }, []);

  return (
    <div style={{ position: 'absolute', left: 0, top: 0, width: 2400, height: 1600, background: '#fff', overflow: 'hidden', fontFamily: FONT }}>
      <canvas ref={topRef} width={2400} height={800} style={{ position: 'absolute', left: 0, top: 0, width: 2400, height: 800 }} />
      <canvas ref={botRef} width={2400} height={800} style={{ position: 'absolute', left: 0, top: 800, width: 2400, height: 800 }} />

      <Txt x={1198} y={46.5} size={36}>CPS Spectra</Txt>
      <Txt x={1198} y={86.5} size={36}>1243069200 to 1243069800</Txt>

      <Txt x={1230} y={173.5} size={27.5}>ITMX_ST1</Txt>
      <Txt x={1230} y={847.5} size={27.5}>ITMX_ST2</Txt>

      <Txt x={1230} y={798} size={25}>Freq (hz)</Txt>
      <Txt x={1230} y={1470} size={25}>Freq (hz)</Txt>

      <Txt x={239} y={471.5} size={25} rotate>m/rthz</Txt>
      <Txt x={239} y={1144.5} size={25} rotate>m/rthz</Txt>

      <Txt x={2288} y={880} size={16.5} rotate>/opt/rtcds/userapps/trunk/sys/h1/scripts/BSC_cps_spectra.py</Txt>
      <Txt x={1222} y={1513} size={16.5}>calibration only &gt;10hz</Txt>

      <Legend left={1748} top={207} labels={ST1_LABELS} />
      <Legend left={1748} top={879} labels={ST2_LABELS} />
    </div>
  );
}
